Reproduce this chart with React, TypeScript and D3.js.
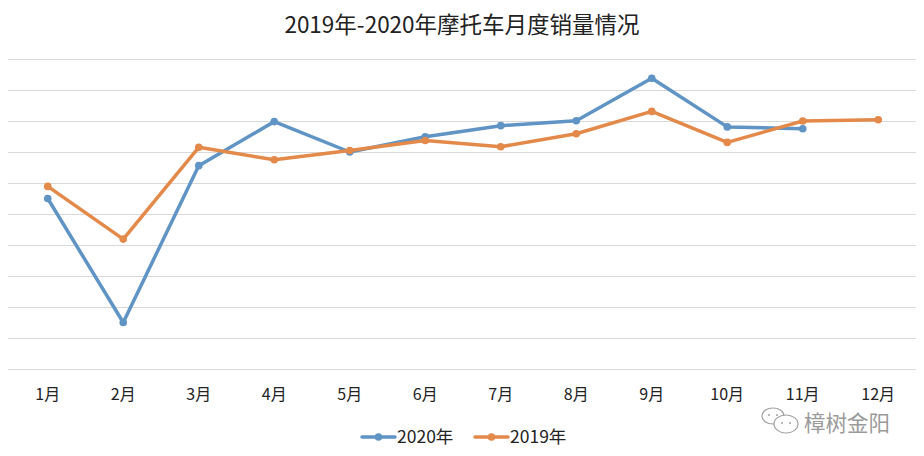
import * as d3 from "d3";
import { useEffect, useRef } from "react";

const months = ["1月", "2月", "3月", "4月", "5月", "6月", "7月", "8月", "9月", "10月", "11月", "12月"];
const sales2020 = [55, 15, 65.6, 79.8, 70, 74.9, 78.5, 80.1, 93.8, 78.1, 77.5];
const sales2019 = [58.9, 41.9, 71.5, 67.5, 70.5, 73.7, 71.7, 75.9, 83.1, 73.1, 80, 80.4];
const gridTicks = [0, 10, 20, 30, 40, 50, 60, 70, 80, 90, 100];

const series = [
  { name: "2020年", values: sales2020, color: "#5f94c4" },
  { name: "2019年", values: sales2019, color: "#e3894a" },
];

const FONT = "'Noto Sans CJK SC', 'Noto Sans', sans-serif";

const App: React.FC = () => {
  const chartRef = useRef<SVGSVGElement | null>(null);

  useEffect(() => {
    if (!chartRef.current) return;
    const svg = d3.select(chartRef.current);
    svg.selectAll("*").remove();
    const width = 924;
    const height = 456;
    svg.attr("width", width).attr("height", height);

    svg.append("rect").attr("width", width).attr("height", height).attr("fill", "#fff");

    const x = d3.scaleBand<string>().domain(months).range([10, 916]).padding(0);
    const y = d3.scaleLinear().domain([0, 100]).range([369, 59]);
    const cx = (i: number) => x(months[i])! + x.bandwidth() / 2;

    // title
    svg
      .append("text")
      .attr("x", 462)
      .attr("y", 33)
      .attr("text-anchor", "middle")
      .attr("font-family", FONT)
      .attr("font-size", 22.5)
      .attr("fill", "#222")
      .text("2019年-2020年摩托车月度销量情况");

    // gridlines
    svg
      .append("g")
      .selectAll("line")
      .data(gridTicks)
      .join("line")
      .attr("x1", 8)
      .attr("x2", 916)
      .attr("y1", (d) => y(d) + 0.5)
      .attr("y2", (d) => y(d) + 0.5)
      .attr("stroke", "#d9d9d9")
      .attr("stroke-width", 1);

    // x labels
    svg
      .append("g")
      .selectAll("text")
      .data(months)
      .join("text")
      .attr("x", (d) => x(d)! + x.bandwidth() / 2)
      .attr("y", 400)
      .attr("text-anchor", "middle")
      .attr("font-family", FONT)
      .attr("font-size", 16)
      .attr("fill", "#222")
      .text((d) => d);

    const line = d3
      .line<number>()
      .x((_, i) => cx(i))
      .y((d) => y(d));

    // 2020 drawn first, 2019 on top
    series.forEach((s) => {
      const g = svg.append("g");
      g.append("path")
        .datum(s.values)
        .attr("fill", "none")
        .attr("stroke", s.color)
        .attr("stroke-width", 3.5)
        .attr("stroke-linejoin", "round")
        .attr("stroke-linecap", "round")
        .attr("d", line);
      g.selectAll("circle")
        .data(s.values)
        .join("circle")
        .attr("cx", (_, i) => cx(i))
        .attr("cy", (d) => y(d))
        .attr("r", 3.8)
        .attr("fill", s.color);
    });

    // legend
    const legend = svg.append("g");
    const legendX = [362, 475];
    series.forEach((s, i) => {
      const lx = legendX[i];
      legend
        .append("line")
        .attr("x1", lx)
        .attr("x2", lx + 33)
        .attr("y1", 437)
        .attr("y2", 437)
        .attr("stroke", s.color)
        .attr("stroke-width", 3.5)
        .attr("stroke-linecap", "round");
      legend
        .append("circle")
        .attr("cx", lx + 16.5)
        .attr("cy", 437)
        .attr("r", 3.8)
        .attr("fill", s.color);
      legend
        .append("text")
        .attr("x", lx + 35)
        .attr("y", 443)
        .attr("font-family", FONT)
        .attr("font-size", 17.5)
        .attr("fill", "#222")
        .text(s.name);
    });

    // watermark
    const wm = svg.append("g").attr("fill", "none").attr("stroke", "#a0a0a0").attr("stroke-width", 1.2);
    wm.append("ellipse").attr("cx", 773).attr("cy", 416).attr("rx", 11).attr("ry", 8);
    wm.append("ellipse").attr("cx", 786).attr("cy", 424).attr("rx", 12).attr("ry", 9).attr("fill", "#fff");
    [[769, 415], [777, 415], [782, 423], [790, 423]].forEach(([px, py]) =>
      wm.append("circle").attr("cx", px).attr("cy", py).attr("r", 1).attr("fill", "#a0a0a0").attr("stroke", "none")
    );
    svg
      .append("text")
      .attr("x", 804)
      .attr("y", 431)
      .attr("font-family", FONT)
      .attr("font-size", 21.5)
      .attr("fill", "#9a9a9a")
      .text("樟树金阳");
  }, []);

  return <svg ref={chartRef} style={{ position: "absolute", left: 0, top: 0, display: "block" }}></svg>;
};

export default App;
